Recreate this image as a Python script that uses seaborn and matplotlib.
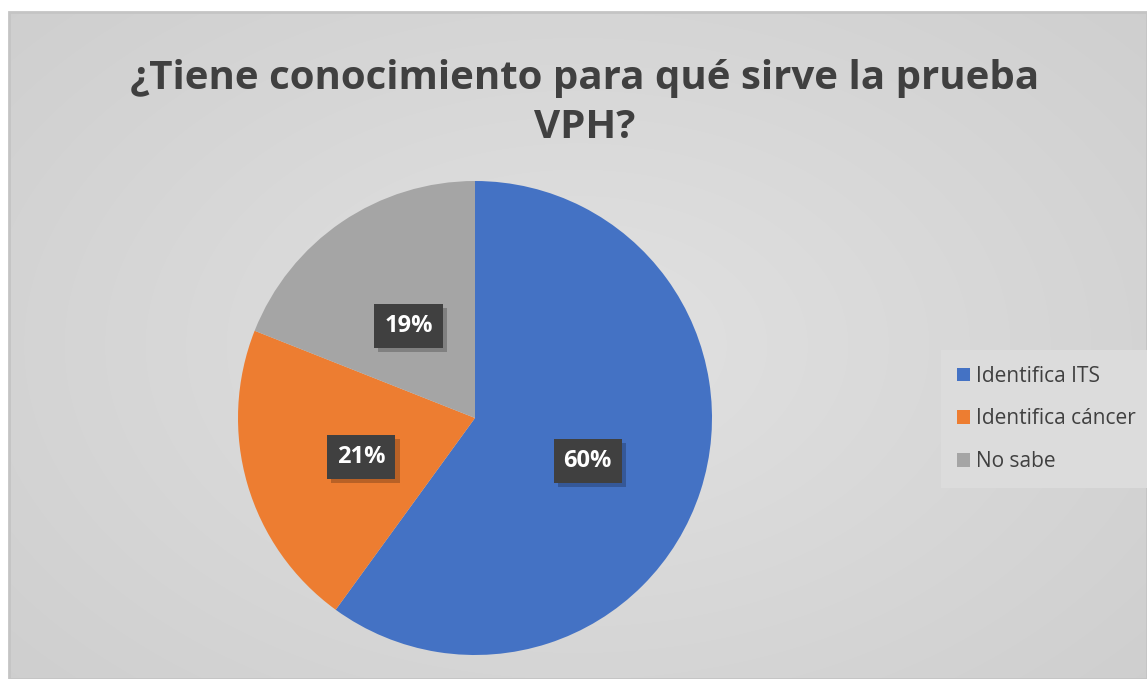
import numpy as np
import matplotlib
matplotlib.use("Agg")
import matplotlib.pyplot as plt
import matplotlib.patheffects as pe
from matplotlib.patches import Rectangle
from matplotlib.transforms import ScaledTranslation
import seaborn as sns

categories = ["Identifica ITS", "Identifica cáncer", "No sabe"]
values = [60, 21, 19]
colors = ["#4472C4", "#ED7D31", "#A5A5A5"]
title = "¿Tiene conocimiento para qué sirve la prueba\nVPH?"

sns.set_theme(style="white")
plt.rcParams['font.family'] = ['Open Sans', 'DejaVu Sans']

W, H = 1147, 679
fig = plt.figure(figsize=(W / 100, H / 100), dpi=100)
fig.patch.set_facecolor("white")

# background with radial gradient (chart area)
x0, y0, x1, y1 = 9, 12, 1147, 679
bg = fig.add_axes([x0 / W, 1 - y1 / H, (x1 - x0) / W, (y1 - y0) / H])
yy, xx = np.mgrid[0:1:300j, 0:1:500j]
r = np.sqrt(((xx - 0.5) * 1.0) ** 2 + ((yy - 0.5) * 0.9) ** 2)
g = 0.885 - 0.11 * r
bg.imshow(np.dstack([g, g, g]), aspect="auto", extent=[0, 1, 0, 1], interpolation="bilinear")
bg.set_axis_off()
bg.add_patch(Rectangle((0, 0), 1, 1, transform=bg.transAxes, fill=False,
                       edgecolor="#c4c4c4", linewidth=2.0, clip_on=False))

# pie axes: centre (475,418), radius 237
cx, cy, rad = 475, 418, 237
ax = fig.add_axes([(cx - rad) / W, 1 - (cy + rad) / H, 2 * rad / W, 2 * rad / H])
wedges, texts, autotexts = ax.pie(
    values, colors=colors, startangle=90, counterclock=False,
    autopct=lambda p: f"{p:.0f}%", pctdistance=0.5,
    wedgeprops=dict(linewidth=0),
    textprops=dict(color="white", fontsize=17, fontweight="bold"),
)
ax.set_xlim(-1, 1)
ax.set_ylim(-1, 1)
for t in autotexts:
    t.set_transform(t.get_transform() + ScaledTranslation(0, -6 / 100, fig.dpi_scale_trans))
    t.set_bbox(dict(boxstyle="square,pad=0.42", facecolor="#404040", edgecolor="none"))
    t.get_bbox_patch().set_path_effects([
        pe.SimplePatchShadow(offset=(3, -3), shadow_rgbFace="black", alpha=0.22),
        pe.Normal()])
ax.set_aspect("equal")
ax.set_axis_off()

fig.text(585 / W, 1 - 103 / H, title, ha="center", va="center", fontsize=29,
         fontweight="bold", color="#404040", linespacing=1.3)

handles = [Rectangle((0, 0), 1, 1, facecolor=c, edgecolor="none") for c in colors]
leg = fig.legend(handles, categories, loc="center left",
                 bbox_to_anchor=(941 / W, 1 - 419 / H), fontsize=15,
                 frameon=True, fancybox=False, facecolor="#dcdcdc", edgecolor="none",
                 framealpha=1.0, handlelength=0.62, handleheight=0.62, handletextpad=0.3,
                 labelspacing=1.05, borderpad=0.75, borderaxespad=0)
for t in leg.get_texts():
    t.set_color("#404040")

fig.savefig("out.png", dpi=100, facecolor="white")
